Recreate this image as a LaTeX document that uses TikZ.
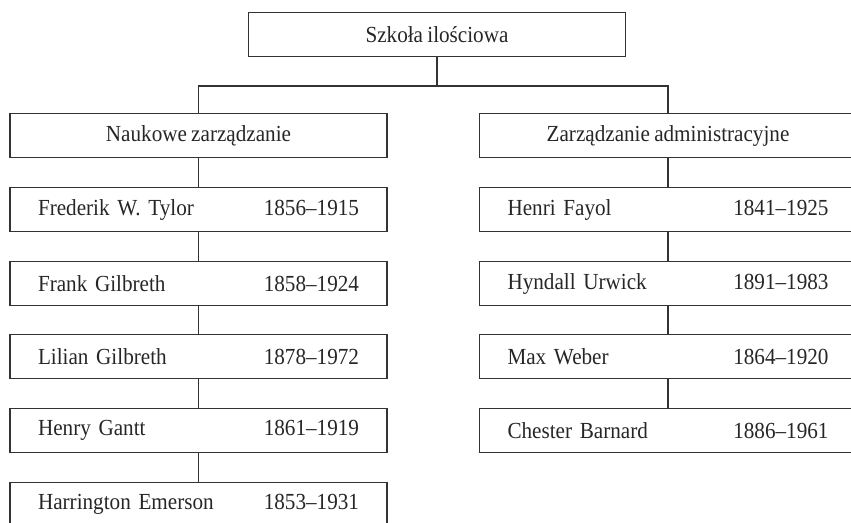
\documentclass[tikz,border=0pt]{standalone}
\usepackage{fontspec}
\setmainfont[FakeStretch=0.92, WordSpace=0.8]{Liberation Serif}
\begin{document}
\begin{tikzpicture}[x=1pt,y=-1pt,
  every node/.style={font=\fontsize{23}{27}\selectfont, text=black!85},
  box/.style={draw=black!80, line width=1.2pt, minimum width=377pt, minimum height=44pt,
    inner sep=0pt, anchor=north},
  person/.style={box, text width=321pt, inner xsep=28pt, align=left},
  link/.style={draw=black!80, line width=1.2pt}]
\useasboundingbox (0,0) rectangle (851,522);
\clip (0,0) rectangle (851,522);

% root and the two branches
\node[box] (root) at (437,12) {Szkoła ilościowa};
\coordinate (split) at (437,86);
\node[box] (nauk) at (198.5,113) {Naukowe zarządzanie};
\node[box] (admin) at (668,113) {Zarządzanie administracyjne};

% scientific management
\node[person] (l1) at (198.5,187) {Frederik W. Tylor\hfill 1856–1915};
\node[person] (l2) at (198.5,261) {Frank Gilbreth\hfill 1858–1924};
\node[person] (l3) at (198.5,334) {Lilian Gilbreth\hfill 1878–1972};
\node[person] (l4) at (198.5,408) {Henry Gantt\hfill 1861–1919};
\node[person] (l5) at (198.5,482) {Harrington Emerson\hfill 1853–1931};

% administrative management
\node[person] (r1) at (668,187) {Henri Fayol\hfill 1841–1925};
\node[person] (r2) at (668,261) {Hyndall Urwick\hfill 1891–1983};
\node[person] (r3) at (668,334) {Max Weber\hfill 1864–1920};
\node[person] (r4) at (668,408) {Chester Barnard\hfill 1886–1961};

% connectors
\draw[link] (root.south) -- (split);
\draw[link] (split) -| (nauk.north);
\draw[link] (split) -| (admin.north);
\draw[link] (nauk.south) -- (l1.north);
\draw[link] (l1.south) -- (l2.north);
\draw[link] (l2.south) -- (l3.north);
\draw[link] (l3.south) -- (l4.north);
\draw[link] (l4.south) -- (l5.north);
\draw[link] (admin.south) -- (r1.north);
\draw[link] (r1.south) -- (r2.north);
\draw[link] (r2.south) -- (r3.north);
\draw[link] (r3.south) -- (r4.north);
\end{tikzpicture}
\end{document}
